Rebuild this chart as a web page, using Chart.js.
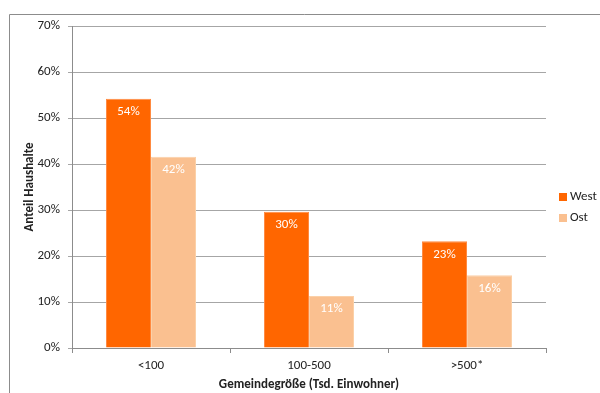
<!DOCTYPE html>
<html>
<head>
<meta charset="utf-8">
<script src="https://cdn.jsdelivr.net/npm/chart.js@4"></script>
<style>
    html, body { margin: 0; padding: 0; background: #fff; }
    #wrap { width: 600px; height: 393px; position: relative; }
</style>
</head>
<body>
<div id="wrap"><canvas id="chart" width="600" height="393"></canvas></div>
<script>
const categories = ["<100", "100-500", ">500*"];
const westValues = [54.2, 29.6, 23.2];
const ostValues = [41.6, 11.3, 15.8];
const westLabels = ["54%", "30%", "23%"];
const ostLabels = ["42%", "11%", "16%"];
const yTicks = [0, 10, 20, 30, 40, 50, 60, 70];

const fontFamily = "Carlito, 'Open Sans', 'Noto Sans', sans-serif";

// white value labels near the top of each bar
const barLabels = {
    id: "barLabels",
    afterDatasetsDraw(chart) {
        const ctx = chart.ctx;
        ctx.save();
        ctx.fillStyle = "#ffffff";
        ctx.font = "13px " + fontFamily;
        ctx.textAlign = "center";
        ctx.textBaseline = "middle";
        chart.data.datasets.forEach((ds, i) => {
            chart.getDatasetMeta(i).data.forEach((bar, j) => {
                ctx.fillText(ds.valueLabels[j], bar.x, bar.y + 13);
            });
        });
        ctx.restore();
    }
};

// frame around the chart (top + left edges visible) and legend on the right
const frameAndLegend = {
    id: "frameAndLegend",
    afterDraw(chart) {
        const ctx = chart.ctx;
        ctx.save();
        ctx.strokeStyle = "#8c8c8c";
        ctx.lineWidth = 1;
        ctx.beginPath();
        ctx.moveTo(9.5, 393);
        ctx.lineTo(9.5, 14.5);
        ctx.lineTo(600, 14.5);
        ctx.stroke();

        ctx.font = "13px " + fontFamily;
        ctx.textBaseline = "middle";
        ctx.textAlign = "left";
        const x = chart.chartArea.right + 13;
        chart.data.datasets.forEach((ds, i) => {
            const y = 197 + i * 21;
            ctx.fillStyle = ds.backgroundColor;
            ctx.fillRect(x, y - 4, 8, 8);
            ctx.fillStyle = "#222";
            ctx.fillText(ds.label, x + 11, y);
        });
        ctx.restore();
    }
};

new Chart(document.getElementById("chart"), {
    type: "bar",
    data: {
        labels: categories,
        datasets: [
            {
                label: "West",
                data: westValues,
                valueLabels: westLabels,
                backgroundColor: "#ff6600",
                borderColor: "#ff8a40",
                borderWidth: 1,
                categoryPercentage: 0.57,
                barPercentage: 1.0
            },
            {
                label: "Ost",
                data: ostValues,
                valueLabels: ostLabels,
                backgroundColor: "#fac090",
                borderColor: "#fbd0a8",
                borderWidth: 1,
                categoryPercentage: 0.57,
                barPercentage: 1.0
            }
        ]
    },
    options: {
        responsive: false,
        animation: false,
        layout: { padding: { top: 26, right: 54, left: 0, bottom: 0 } },
        plugins: {
            legend: { display: false },
            tooltip: { enabled: false }
        },
        scales: {
            x: {
                offset: true,
                grid: {
                    offset: true,
                    drawOnChartArea: false,
                    drawTicks: true,
                    tickLength: 5,
                    color: "#8c8c8c"
                },
                border: { color: "#8c8c8c" },
                ticks: {
                    color: "#222",
                    font: { family: fontFamily, size: 13 },
                    padding: 5
                },
                title: {
                    display: true,
                    text: "Gemeindegröße (Tsd. Einwohner)",
                    color: "#222",
                    font: { family: fontFamily, size: 13, weight: "bold" },
                    padding: { top: 1, bottom: 0 }
                },
                afterFit(scale) { scale.height = 45; }
            },
            y: {
                min: 0,
                max: 70,
                afterBuildTicks(scale) {
                    scale.ticks = yTicks.map(v => ({ value: v }));
                },
                grid: {
                    color: "#a6a6a6",
                    drawTicks: true,
                    tickLength: 4
                },
                border: { color: "#8c8c8c" },
                ticks: {
                    color: "#222",
                    font: { family: fontFamily, size: 13 },
                    padding: 8,
                    callback: v => v + "%"
                },
                title: {
                    display: true,
                    text: "Anteil Haushalte",
                    color: "#222",
                    font: { family: fontFamily, size: 13, weight: "bold" },
                    padding: { top: 22, bottom: 0 }
                },
                afterFit(scale) { scale.width = 72; }
            }
        }
    },
    plugins: [barLabels, frameAndLegend]
});
</script>
</body>
</html>
